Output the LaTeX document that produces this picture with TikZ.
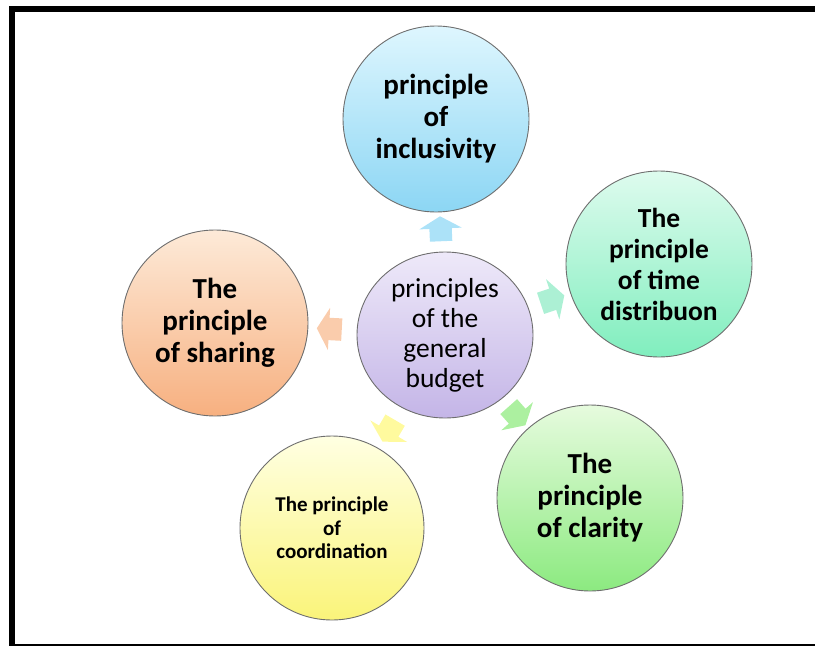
\documentclass[tikz,border=0pt]{standalone}
\usepackage{fontspec}
\setmainfont{Carlito}
\usetikzlibrary{shapes.arrows,shapes.geometric}

% bubble gradients: light top, deeper bottom
\definecolor{hubTop}{RGB}{238,233,249}
\definecolor{hubBot}{RGB}{196,181,231}
\definecolor{inclTop}{RGB}{222,246,254}
\definecolor{inclBot}{RGB}{140,214,244}
\definecolor{timeTop}{RGB}{222,251,238}
\definecolor{timeBot}{RGB}{128,238,190}
\definecolor{clarTop}{RGB}{230,251,222}
\definecolor{clarBot}{RGB}{140,234,128}
\definecolor{coordTop}{RGB}{255,255,226}
\definecolor{coordBot}{RGB}{250,244,122}
\definecolor{shareTop}{RGB}{253,234,216}
\definecolor{shareBot}{RGB}{247,176,128}
\definecolor{ringLine}{RGB}{110,110,110}
% spoke arrow fills
\definecolor{inclArrow}{RGB}{172,226,248}
\definecolor{timeArrow}{RGB}{172,240,212}
\definecolor{clarArrow}{RGB}{172,240,160}
\definecolor{coordArrow}{RGB}{255,250,158}
\definecolor{shareArrow}{RGB}{250,204,172}

\begin{document}
\begin{tikzpicture}[x=1pt,y=-1pt,
  bubble/.style={circle, minimum size=186pt, inner sep=0pt, draw=ringLine,
    line width=0.9pt, align=center,
    font=\bfseries\fontsize{29}{32}\selectfont},
  spoke/.style={single arrow, draw=none, minimum height=25pt,
    inner xsep=0pt, inner ysep=11pt, text height=0pt, text depth=0pt,
    single arrow head extend=10pt, single arrow tip angle=120,
    sloped, allow upside down, pos=0.5}
]
\useasboundingbox (0,0) rectangle (815,646);

% frame
\fill (9,6) rectangle (815,12);
\fill (9,6) rectangle (15,646);
\draw[line width=1.2pt] (9,645) -- (815,645);

% hub
\node[ellipse, minimum width=176pt, minimum height=166pt, inner sep=0pt,
  draw=ringLine, line width=0.9pt, top color=hubTop, bottom color=hubBot,
  align=center, font=\fontsize{27.5}{30}\selectfont]
  (hub) at (445,335) {principles\\of the\\general\\budget};

% outer bubbles
\node[bubble, top color=inclTop, bottom color=inclBot] (incl) at (436,119)
  {principle\\of\\inclusivity};
\node[bubble, top color=timeTop, bottom color=timeBot,
  font=\bfseries\fontsize{27.5}{31}\selectfont] (time) at (659,264)
  {The\\principle\\of time\\distribuon};
\node[bubble, top color=clarTop, bottom color=clarBot] (clar) at (590,498)
  {The\\principle\\of clarity};
\node[bubble, minimum size=184pt, top color=coordTop, bottom color=coordBot,
  font=\bfseries\fontsize{21}{23.5}\selectfont] (coord) at (332,528)
  {The principle\\of\\coordination};
\node[bubble, top color=shareTop, bottom color=shareBot] (share) at (215,323)
  {The\\principle\\of sharing};

% spokes
\path (hub) -- node[spoke, fill=inclArrow] (s1) {} (incl);
\path (hub) -- node[spoke, fill=timeArrow] (s2) {} (time);
\path (hub) -- node[spoke, fill=clarArrow] (s3) {} (clar);
\path (hub) -- node[spoke, fill=coordArrow] (s4) {} (coord);
\path (hub) -- node[spoke, fill=shareArrow] (s5) {} (share);
\end{tikzpicture}
\end{document}
